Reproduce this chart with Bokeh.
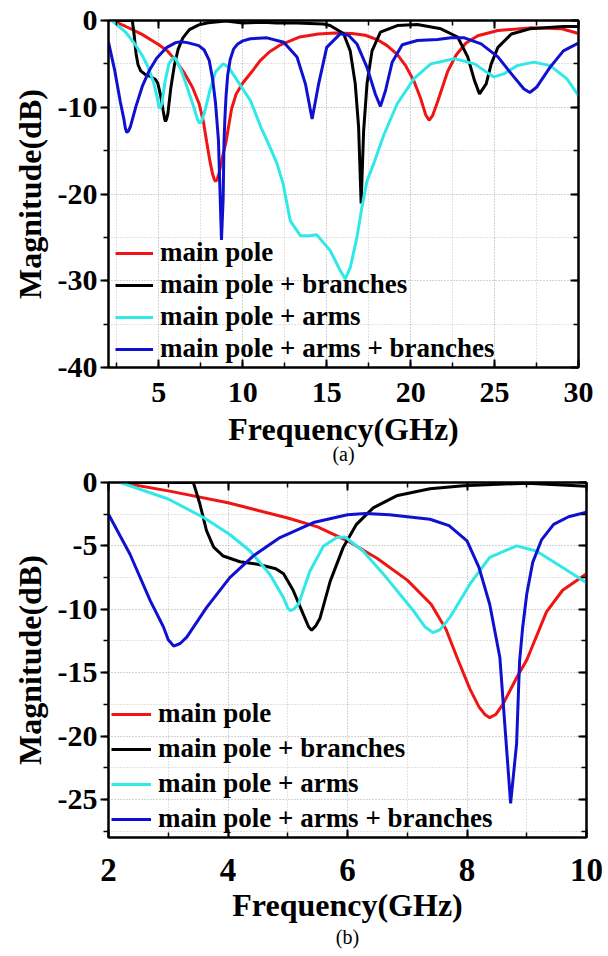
from bokeh.plotting import figure
from bokeh.layouts import column
from bokeh.models import Range1d, FixedTicker, LinearAxis, Legend, LegendItem, Title
from bokeh.embed import file_html
from bokeh.resources import INLINE

# ---------------- data ----------------
red_f = [2.2, 3.0, 4.0, 5.0, 5.5, 6.0, 6.5, 7.0, 7.4, 7.65, 7.85, 8.05, 8.2, 8.3, 8.38, 8.48, 8.6, 8.83,
         9.0, 9.33, 9.6, 10.0, 10.5, 11.05, 11.6, 12.25, 13.4, 14.5, 15.5, 16.5, 17.3, 18.0,
         18.6, 19.2, 19.7, 20.2, 20.6, 20.9, 21.1, 21.3, 21.6, 22.2, 22.7, 23.3, 24.0, 25.2, 27.1, 29.0, 30.0]
red_db = [0, -0.66, -1.6, -2.8, -3.5, -4.6, -6.0, -7.7, -9.6, -11.6, -14.0, -16.3, -17.7, -18.3, -18.55, -18.3, -17.5, -15.4,
          -14.0, -10.2, -8.5, -7.2, -6.0, -4.6, -3.6, -2.8, -1.9, -1.55, -1.45, -1.5, -1.7, -2.2,
          -2.9, -3.9, -5.2, -7.0, -9.0, -10.9, -11.5, -11.0, -9.4, -5.9, -4.0, -2.6, -1.75, -1.15, -0.85, -0.95, -1.5]

blk_f = [2.2, 3.0, 3.42, 3.53, 3.64, 3.76, 3.92, 4.2, 4.5, 4.8, 4.93, 5.09, 5.26, 5.35, 5.4, 5.47, 5.54, 5.71,
         5.93, 6.15, 6.43, 6.82, 7.38, 7.94, 9.0, 10.0, 11.2, 12.0, 13.2, 14.8, 15.2, 16.0, 16.4,
         16.7, 16.9, 17.05, 17.2, 17.4, 17.7, 18.2, 19.2, 20.4, 21.8, 22.8, 23.4, 23.8, 24.1, 24.5,
         24.8, 25.2, 26.0, 27.1, 29.1, 30.0]
blk_db = [0, 0, 0, -1.7, -3.8, -5.1, -5.8, -6.25, -6.45, -6.8, -7.2, -8.5, -10.4, -11.4, -11.65, -11.3, -10.7, -7.8,
          -5.1, -3.3, -2.0, -1.05, -0.5, -0.25, -0.05, -0.3, -0.2, -0.3, -0.3, -0.4, -0.58, -1.5, -3.5,
          -7.3, -12.3, -21.1, -12.7, -7.3, -3.5, -1.35, -0.58, -0.46, -0.96, -1.9, -4.2, -6.9, -8.46, -7.3,
          -5.0, -3.1, -1.55, -0.96, -0.7, -0.7]

cyn_f = [2.2, 3.0, 3.59, 4.03, 4.37, 4.7, 4.93, 5.0, 5.04, 5.1, 5.18, 5.37, 5.6, 5.82, 5.96, 6.26, 6.65, 7.1,
         7.3, 7.43, 7.55, 7.71, 8.05, 8.38, 8.83, 9.16, 9.6, 10.0, 10.45, 11.1, 11.6, 12.04, 12.4, 12.83, 13.43,
         14.0, 14.4, 15.2, 15.8, 16.1, 16.4, 16.8, 17.1, 17.4, 17.8, 18.4, 19.2, 20.2, 21.2, 22.6,
         23.8, 24.96, 25.55, 26.35, 27.35, 28.3, 29.3, 30.0]
cyn_db = [0, -1.3, -2.76, -4.1, -5.4, -7.24, -9.1, -9.9, -10.1, -10.0, -9.6, -7.0, -5.0, -4.34, -4.3, -5.4, -7.5, -10.1,
          -11.4, -11.84, -11.6, -10.66, -8.0, -5.9, -5.0, -5.4, -6.7, -7.9, -9.2, -12.4, -14.5, -16.5, -18.8, -23.1, -24.8,
          -24.8, -24.7, -26.5, -28.8, -29.8, -28.5, -25.0, -21.5, -18.5, -16.5, -13.2, -9.6, -6.7, -5.0, -4.4,
          -5.0, -6.5, -6.15, -5.2, -4.8, -5.2, -6.7, -8.65]

blu_f = [2.0, 2.36, 2.7, 2.92, 3.0, 3.09, 3.2, 3.31, 3.64, 4.03, 4.42, 4.87, 5.43, 6.0, 6.3, 6.7, 7.38, 7.7,
         8.0, 8.2, 8.38, 8.55, 8.73, 8.83, 8.88, 8.93, 9.0, 9.1, 9.25, 9.45, 9.7, 10.0, 10.45, 11.44,
         12.44, 13.23, 13.73, 14.13, 14.52, 15.0, 15.8, 16.3, 16.8, 17.4, 17.9, 18.2, 18.5, 18.9, 19.5,
         20.4, 21.6, 22.4, 23.2, 24.2, 25.2, 26.15, 26.75, 27.1, 27.5, 28.3, 29.1, 29.5, 30.0]
blu_db = [-2.5, -5.66, -9.34, -11.4, -12.4, -12.9, -12.7, -12.2, -9.87, -7.5, -5.8, -4.34, -3.16, -2.55, -2.45, -2.55, -2.9, -3.4,
          -4.6, -6.7, -9.6, -13.8, -25.3, -20.6, -14.1, -11.5, -8.8, -6.3, -4.5, -3.3, -2.7, -2.35, -2.1, -2.0,
          -2.5, -4.2, -7.3, -11.35, -7.3, -3.1, -1.54, -1.7, -2.7, -5.4, -8.5, -9.9, -8.1, -4.8, -2.8,
          -2.3, -2.2, -2.0, -2.0, -2.7, -4.2, -6.5, -7.9, -8.3, -7.7, -5.4, -3.5, -3.1, -2.6]

labels = ["main pole", "main pole + branches", "main pole + arms", "main pole + arms + branches"]
colors = ["#f01414", "#000000", "#30e8e8", "#1010d0"]

a_xticks = [5, 10, 15, 20, 25, 30]
a_xminor = [2.5, 5, 7.5, 10, 12.5, 15, 17.5, 20, 22.5, 25, 27.5, 30]
a_yticks = [-40, -30, -20, -10, 0]
a_yminor = [-40, -35, -30, -25, -20, -15, -10, -5, 0]
b_xticks = [2, 4, 6, 8, 10]
b_xminor = [2, 3, 4, 5, 6, 7, 8, 9, 10]
b_yticks = [-25, -20, -15, -10, -5, 0]
b_yminor = [-27.5, -25, -22.5, -20, -17.5, -15, -12.5, -10, -7.5, -5, -2.5, 0]

FONT = "Liberation Serif"
series = [(red_f, red_db), (blk_f, blk_db), (cyn_f, cyn_db), (blu_f, blu_db)]


def style_axis(ax, inward, show_labels=True, tick_size="30px"):
    ax.axis_line_width = 2
    ax.axis_line_color = "black"
    ax.major_tick_line_width = 2
    ax.minor_tick_line_width = 1.5
    ax.major_tick_line_color = "black"
    ax.minor_tick_line_color = "black"
    if inward:
        ax.major_tick_in, ax.major_tick_out = 8, 0
        ax.minor_tick_in, ax.minor_tick_out = 5, 0
    else:
        ax.major_tick_in, ax.major_tick_out = 0, 8
        ax.minor_tick_in, ax.minor_tick_out = 0, 5
    if show_labels:
        ax.major_label_text_font = FONT
        ax.major_label_text_font_style = "bold"
        ax.major_label_text_font_size = tick_size
        ax.major_label_text_color = "black"
        ax.axis_label_text_font = FONT
        ax.axis_label_text_font_style = "bold"
        ax.axis_label_text_font_size = "32px"
        ax.axis_label_text_color = "black"
    else:
        ax.major_label_text_font_size = "0px"
        ax.major_label_standoff = 0


def panel(xr, yr, xt, xm, yt, ym, fw, fh, bl, br, bt, bb, xtick_size, xstand, xlab_stand,
          leg_loc, leg_spacing, leg_glyph_w, cap, cap_off, cap_standoff):
    p = figure(frame_width=fw, frame_height=fh, x_range=Range1d(*xr), y_range=Range1d(*yr),
               output_backend="svg", toolbar_location=None,
               min_border_left=bl, min_border_right=br, min_border_top=bt, min_border_bottom=bb)
    p.outline_line_color = "black"
    p.outline_line_width = 2
    p.background_fill_color = "white"
    p.border_fill_color = "white"

    xtk = FixedTicker(ticks=xt, minor_ticks=xm)
    ytk = FixedTicker(ticks=yt, minor_ticks=ym)
    p.xaxis.ticker = xtk
    p.yaxis.ticker = ytk
    p.xaxis.major_label_overrides = {v: str(v) for v in xt}
    p.yaxis.major_label_overrides = {v: str(v) for v in yt}
    p.xaxis.axis_label = "Frequency(GHz)"
    p.yaxis.axis_label = "Magnitude(dB)"
    style_axis(p.xaxis[0], inward=True, tick_size=xtick_size)
    style_axis(p.yaxis[0], inward=False)
    p.xaxis.major_label_standoff = xstand
    p.yaxis.major_label_standoff = 3
    p.xaxis.axis_label_standoff = xlab_stand
    p.yaxis.axis_label_standoff = 7

    top = LinearAxis(ticker=xtk)
    style_axis(top, inward=True, show_labels=False)
    p.add_layout(top, "above")
    right = LinearAxis(ticker=ytk)
    style_axis(right, inward=True, show_labels=False)
    p.add_layout(right, "right")

    for g in (p.xgrid[0], p.ygrid[0]):
        g.grid_line_color = "#c4c4c4"
        g.grid_line_dash = "1 2"
        g.grid_line_width = 1
        g.minor_grid_line_color = "#c4c4c4"
        g.minor_grid_line_dash = "1 2"
        g.minor_grid_line_width = 1

    items = []
    for (fx, dy), c, lab in zip(series, colors, labels):
        r = p.line(fx, dy, line_color=c, line_width=3)
        items.append(LegendItem(label=lab, renderers=[r]))

    leg = Legend(items=items, location=leg_loc, border_line_color=None,
                 background_fill_alpha=0, padding=0, margin=0,
                 label_text_font=FONT, label_text_font_style="bold",
                 label_text_font_size="27px", label_text_color="black",
                 glyph_width=leg_glyph_w, glyph_height=30, label_height=30,
                 spacing=leg_spacing, label_standoff=7)
    p.add_layout(leg)

    t = Title(text=cap, align="center", vertical_align="top", offset=cap_off,
              standoff=cap_standoff, text_font=FONT, text_font_size="20px",
              text_font_style="normal", text_color="black")
    p.add_layout(t, "below")
    return p


pa = panel((2, 30), (-40, 0), a_xticks, a_xminor, a_yticks, a_yminor,
           470, 347, 108, 30, 20, 99, "30px", 15, 6, (7, 3), 1, 38,
           "(a)", -39, -14)
pb = panel((2, 10), (-28, 0), b_xticks, b_xminor, b_yticks, b_yminor,
           478, 355, 102, 28, 16, 119, "33px", 21, 3, (3, 3), 4, 40,
           "(b)", -37, 0)

layout = column(pa, pb, spacing=0)
open("out.html", "w").write(file_html(layout, INLINE))
